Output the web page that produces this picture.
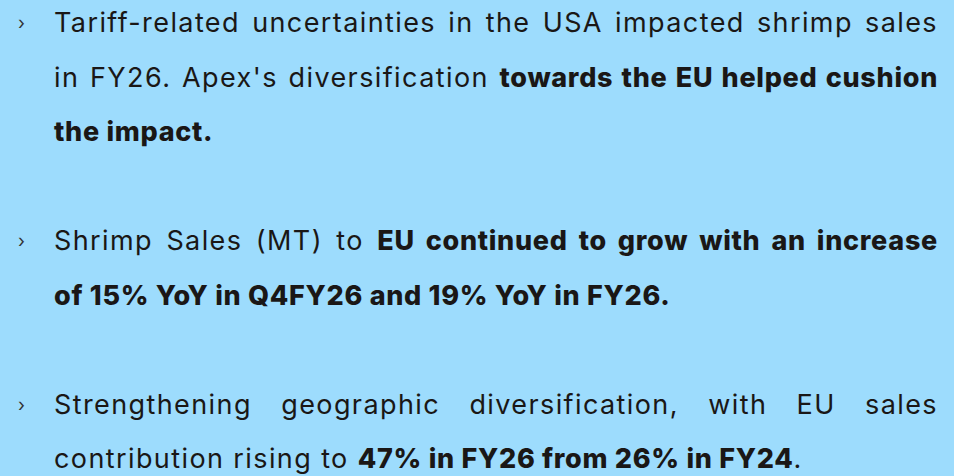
<!DOCTYPE html>
<html>
<head>
<meta charset="utf-8">
<script src="https://cdn.jsdelivr.net/npm/chart.js@4"></script>
<style>
  html, body { margin: 0; padding: 0; }
  body { width: 954px; height: 476px; background: #9ddcfd; overflow: hidden; position: relative;
         font-family: Inter, "Open Sans", sans-serif; color: #1a1716; }
  .line { position: absolute; left: 54px; width: 884px; font-size: 27px; line-height: 54.5px; white-space: nowrap; letter-spacing: 1.4px; }
  .just { text-align: justify; text-align-last: justify; white-space: normal; }
  .bullet { position: absolute; left: 18px; font-size: 18px; line-height: 54.5px; color: #333; }
  b { font-weight: 800; letter-spacing: 0.7px; }
</style>
</head>
<body>
<script>
const rows = [0, 1, 2, 4, 5, 7, 8];
const plainParts = [
  "Tariff-related uncertainties in the USA impacted shrimp sales",
  "in FY26. Apex's diversification ",
  "",
  "Shrimp Sales (MT) to ",
  "",
  "Strengthening geographic diversification, with EU sales",
  "contribution rising to "
];
const boldParts = [
  "",
  "towards the EU helped cushion",
  "the impact.",
  "EU continued to grow with an increase",
  "of 15% YoY in Q4FY26 and 19% YoY in FY26.",
  "",
  "47% in FY26 from 26% in FY24"
];
const tailParts = ["", "", "", "", "", "", "."];
const justified = [true, true, false, true, false, true, false];
const bullets = [true, false, false, true, false, true, false];

const rowH = 54.5, top0 = 2;
rows.forEach((r, i) => {
  const d = document.createElement('div');
  d.className = 'line' + (justified[i] ? ' just' : '');
  d.style.top = (top0 + r * rowH - 6) + 'px';
  let html = plainParts[i];
  if (boldParts[i]) html += '<b>' + boldParts[i] + '</b>';
  html += tailParts[i];
  d.innerHTML = html;
  document.body.appendChild(d);
  if (bullets[i]) {
    const b = document.createElement('div');
    b.className = 'bullet';
    b.style.top = (top0 + r * rowH - 6) + 'px';
    b.textContent = '›';
    document.body.appendChild(b);
  }
});
</script>
</body>
</html>
